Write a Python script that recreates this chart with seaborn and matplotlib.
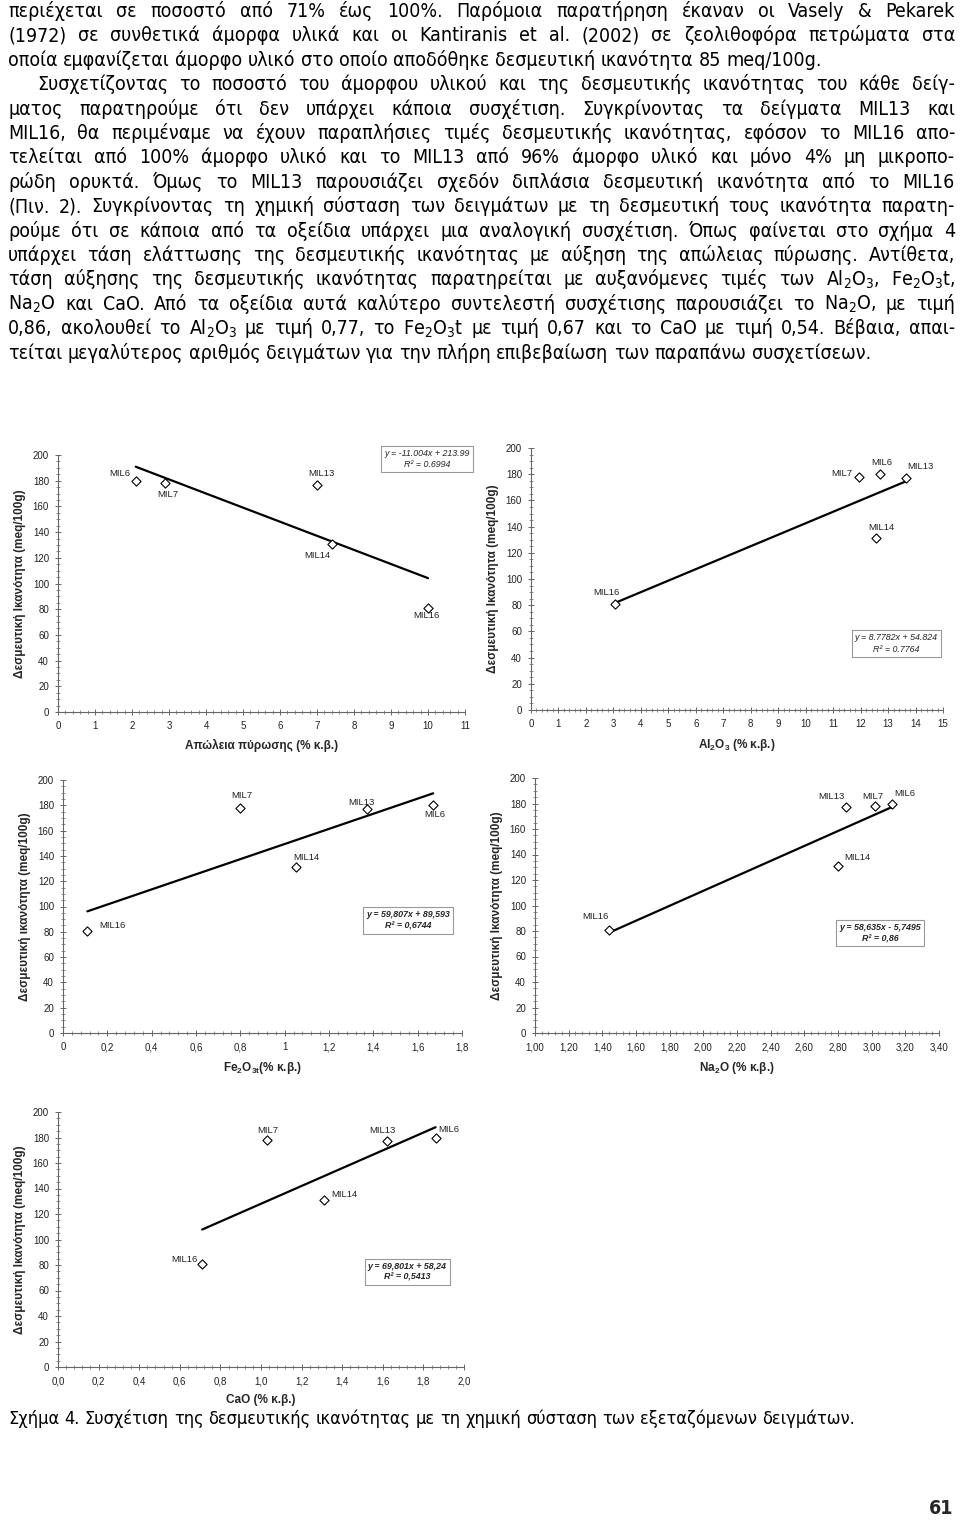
import matplotlib
matplotlib.use('Agg')
import matplotlib.pyplot as plt
import seaborn as sns
import pandas as pd
from matplotlib import font_manager
from matplotlib.ticker import MultipleLocator, FuncFormatter

# data
samples = ['MIL6', 'MIL7', 'MIL13', 'MIL14', 'MIL16']
capacity = [180, 178, 177, 131, 81]
loi = [2.1, 2.9, 7.0, 7.4, 10.0]
al2o3 = [12.7, 11.95, 13.65, 12.55, 3.05]
fe2o3t = [1.67, 0.80, 1.37, 1.05, 0.11]
na2o = [3.12, 3.02, 2.85, 2.80, 1.44]
cao = [1.86, 1.03, 1.62, 1.31, 0.71]

eq_loi = 'y = -11.004x + 213.99\nR² = 0.6994'
eq_al = 'y = 8.7782x + 54.824\nR² = 0.7764'
eq_fe = 'y = 59,807x + 89,593\nR² = 0,6744'
eq_na = 'y = 58,635x - 5,7495\nR² = 0,86'
eq_ca = 'y = 69,801x + 58,24\nR² = 0,5413'

ylab_cap = 'Δεσμευτική Ικανότητα (meq/100g)'
ylab_low = 'Δεσμευτική ικανότητα (meq/100g)'

paragraph_1 = [
    'περιέχεται σε ποσοστό από 71% έως 100%. Παρόμοια παρατήρηση έκαναν οι Vasely & Pekarek',
    '(1972) σε συνθετικά άμορφα υλικά και οι Kantiranis et al. (2002) σε ζεολιθοφόρα πετρώματα στα',
    'οποία εμφανίζεται άμορφο υλικό στο οποίο αποδόθηκε δεσμευτική ικανότητα 85 meq/100g.',
]
paragraph_2 = [
    'Συσχετίζοντας το ποσοστό του άμορφου υλικού και της δεσμευτικής ικανότητας του κάθε δείγ-',
    'ματος παρατηρούμε ότι δεν υπάρχει κάποια συσχέτιση. Συγκρίνοντας τα δείγματα MIL13 και',
    'MIL16, θα περιμέναμε να έχουν παραπλήσιες τιμές δεσμευτικής ικανότητας, εφόσον το MIL16 απο-',
    'τελείται από 100% άμορφο υλικό και το MIL13 από 96% άμορφο υλικό και μόνο 4% μη μικροπο-',
    'ρώδη ορυκτά. Όμως το MIL13 παρουσιάζει σχεδόν διπλάσια δεσμευτική ικανότητα από το MIL16',
    '(Πιν. 2). Συγκρίνοντας τη χημική σύσταση των δειγμάτων με τη δεσμευτική τους ικανότητα παρατη-',
    'ρούμε ότι σε κάποια από τα οξείδια υπάρχει μια αναλογική συσχέτιση. Όπως φαίνεται στο σχήμα 4',
    'υπάρχει τάση ελάττωσης της δεσμευτικής ικανότητας με αύξηση της απώλειας πύρωσης. Αντίθετα,',
    'τάση αύξησης της δεσμευτικής ικανότητας παρατηρείται με αυξανόμενες τιμές των Al$_2$O$_3$, Fe$_2$O$_3$t,',
    'Na$_2$O και CaO. Από τα οξείδια αυτά καλύτερο συντελεστή συσχέτισης παρουσιάζει το Na$_2$O, με τιμή',
    '0,86, ακολουθεί το Al$_2$O$_3$ με τιμή 0,77, το Fe$_2$O$_3$t με τιμή 0,67 και το CaO με τιμή 0,54. Βέβαια, απαι-',
    'τείται μεγαλύτερος αριθμός δειγμάτων για την πλήρη επιβεβαίωση των παραπάνω συσχετίσεων.',
]
caption = 'Σχήμα 4. Συσχέτιση της δεσμευτικής ικανότητας με τη χημική σύσταση των εξεταζόμενων δειγμάτων.'
page_no = '61'

sns.set_style('ticks')
names = {f.name for f in font_manager.fontManager.ttflist}
if 'Liberation Sans Narrow' in names:
    body_font, body_stretch = 'Liberation Sans Narrow', 'normal'
else:
    body_font, body_stretch = 'DejaVu Sans', 'condensed'
plt.rcParams['font.family'] = ['Liberation Sans', 'DejaVu Sans']
plt.rcParams['mathtext.default'] = 'regular'

W, H = 960, 1528
fig = plt.figure(figsize=(W / 100, H / 100), dpi=100)
renderer = fig.canvas.get_renderer()

BODY = 14


def put_line(text, y, x0, x1, justify, size=BODY, weight='normal'):
    words = text.split(' ')

    def make(sz):
        objs = [fig.text(0, 1 - y / H, w, fontsize=sz, fontweight=weight,
                         family=[body_font, 'DejaVu Sans'], fontstretch=body_stretch,
                         va='baseline', ha='left', color='black') for w in words]
        return objs, [o.get_window_extent(renderer).width for o in objs]

    objs, widths = make(size)
    space = size * 100 / 72 * 0.28
    if not justify:
        # shrink the font if the natural line would run past x1
        natural = sum(widths) + space * (len(words) - 1)
        if natural > x1 - x0:
            for o in objs:
                o.remove()
            size = size * (x1 - x0) / natural
            objs, widths = make(size)
            space = size * 100 / 72 * 0.28
        gap = space
    else:
        gap = (x1 - x0 - sum(widths)) / max(len(words) - 1, 1)
    x = x0
    for o, w in zip(objs, widths):
        o.set_x(x / W)
        x += w + gap


line_h = 24.4
y0 = 17
rows = [(t, i == len(paragraph_1) - 1, False) for i, t in enumerate(paragraph_1)]
rows += [(t, i == len(paragraph_2) - 1, i == 0) for i, t in enumerate(paragraph_2)]
for k, (t, last, indent) in enumerate(rows):
    put_line(t, y0 + k * line_h, 37 if indent else 8, 955, not last)

put_line(caption, 1424, 8, 862, False)
fig.text(953 / W, 1 - 1514 / H, page_no, fontsize=14, fontweight='bold',
         family=[body_font, 'DejaVu Sans'], fontstretch=body_stretch, ha='right', va='baseline')

# chart layout: (left, right, top, bottom) in pixels
charts = [
    dict(x=loi, box=(58, 465, 455, 712), xlim=(0, 11), major=1, fmt=lambda v: f'{v:g}',
         xlabel='Απώλεια πύρωσης (% κ.β.)', ylabel=ylab_cap, eq=eq_loi, eqpos=(0.907, 0.985),
         eqbold=False,
         offs=[(-16, 7), (3, -11), (4, 11), (-14, -12), (-2, -8)]),
    dict(x=al2o3, box=(531, 943, 448, 710), xlim=(0, 15), major=1, fmt=lambda v: f'{v:g}',
         xlabel='Al$_2$O$_3$ (% κ.β.)', ylabel=ylab_cap, eq=eq_al, eqpos=(0.887, 0.254),
         eqbold=False,
         offs=[(2, 12), (-17, 3), (14, 12), (6, 11), (-8, 11)]),
    dict(x=fe2o3t, box=(63, 462, 780, 1033), xlim=(0, 1.8), major=0.2,
         fmt=lambda v: f'{v:g}'.replace('.', ','),
         xlabel='Fe$_2$O$_{3t}$(% κ.β.)', ylabel=ylab_low, eq=eq_fe, eqpos=(0.865, 0.445),
         eqbold=True,
         offs=[(2, -9), (1, 12), (-5, 7), (11, 10), (25, 5)]),
    dict(x=na2o, box=(535, 939, 778, 1033), xlim=(1.0, 3.4), major=0.2,
         fmt=lambda v: f'{v:.2f}'.replace('.', ','),
         xlabel='Na$_2$O (% κ.β.)', ylabel=ylab_cap, eq=eq_na, eqpos=(0.854, 0.392),
         eqbold=True,
         offs=[(13, 10), (-2, 10), (-15, 11), (19, 8), (-14, 13)]),
    dict(x=cao, box=(58, 464, 1112, 1367), xlim=(0, 2.0), major=0.2,
         fmt=lambda v: f'{v:.1f}'.replace('.', ','),
         xlabel='CaO (% κ.β.)', ylabel=ylab_cap, eq=eq_ca, eqpos=(0.86, 0.373),
         eqbold=True,
         offs=[(13, 8), (1, 10), (-4, 11), (20, 5), (-18, 4)]),
]

axis_col = '#666666'
for c in charts:
    l, r, t, b = c['box']
    ax = fig.add_axes([l / W, 1 - b / H, (r - l) / W, (b - t) / H])
    df = pd.DataFrame({'x': c['x'], 'y': capacity, 'sample': samples})
    sns.regplot(data=df, x='x', y='y', scatter=False, ci=None, truncate=True,
                color='black', line_kws=dict(lw=1.6), ax=ax)
    sns.scatterplot(data=df, x='x', y='y', marker='D', s=22, facecolor='white',
                    edgecolor='black', linewidth=0.8, ax=ax, zorder=5)
    for (xv, yv, name), (dx, dy) in zip(zip(c['x'], capacity, samples), c['offs']):
        ax.annotate(name, (xv, yv), xytext=(dx, dy), textcoords='offset pixels',
                    ha='center', va='center', fontsize=6.8, color='#222222')
    ax.set_xlim(*c['xlim'])
    ax.set_ylim(0, 200)
    ax.xaxis.set_major_locator(MultipleLocator(c['major']))
    ax.xaxis.set_minor_locator(MultipleLocator(c['major'] / 5))
    ax.yaxis.set_major_locator(MultipleLocator(20))
    ax.yaxis.set_minor_locator(MultipleLocator(5))
    ax.xaxis.set_major_formatter(FuncFormatter(lambda v, p, f=c['fmt']: f(round(v, 6))))
    sns.despine(ax=ax)
    for s in ('left', 'bottom'):
        ax.spines[s].set_color(axis_col)
        ax.spines[s].set_linewidth(0.8)
    ax.tick_params(which='major', direction='inout', length=5, width=0.7, color=axis_col,
                   labelsize=7, labelcolor='#222222', pad=4)
    ax.tick_params(which='minor', direction='inout', length=3, width=0.5, color=axis_col)
    ax.set_xlabel(c['xlabel'], fontsize=8.5, fontweight='bold', labelpad=6)
    ax.set_ylabel(c['ylabel'], fontsize=8.5, fontweight='bold', labelpad=5)
    ax.text(c['eqpos'][0], c['eqpos'][1], c['eq'], transform=ax.transAxes, ha='center',
            va='center', fontsize=6.4, style='italic',
            fontweight='bold' if c['eqbold'] else 'normal', linespacing=1.3,
            bbox=dict(boxstyle='square,pad=0.35', fc='white', ec='#999999', lw=0.8),
            zorder=6)
    ax.patch.set_alpha(0)

fig.savefig('out.png', dpi=100, facecolor='white')
